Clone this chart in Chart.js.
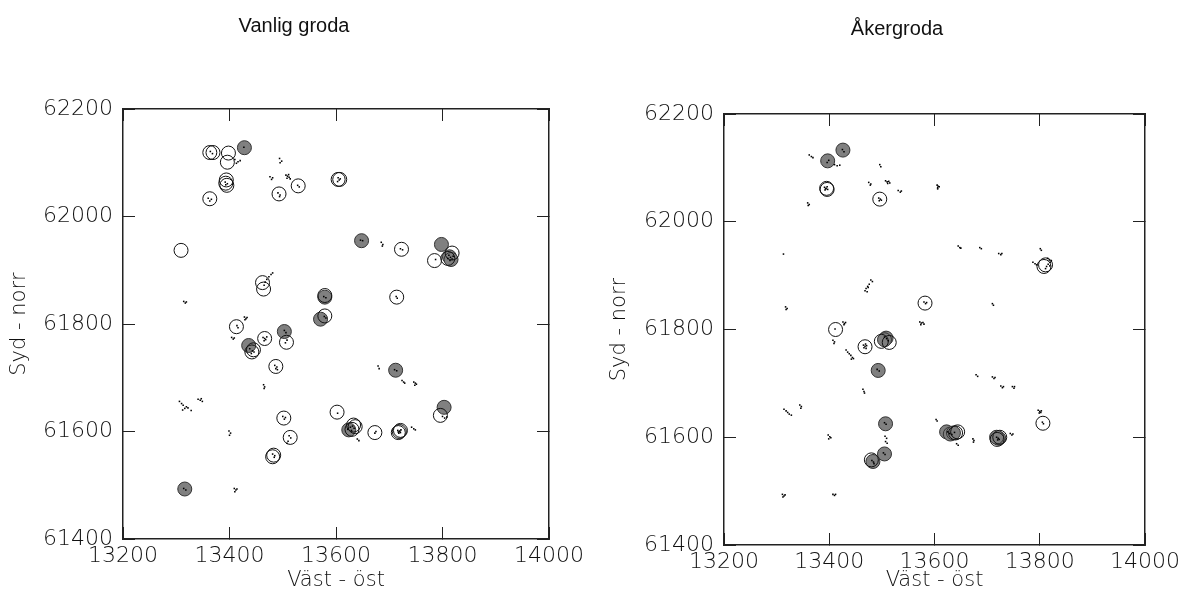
<!DOCTYPE html>
<html lang="sv">
<head>
<meta charset="utf-8">
<title>Vanlig groda och åkergroda</title>
<script src="https://cdn.jsdelivr.net/npm/chart.js@4.4.1/dist/chart.umd.min.js"></script>
<style>
  body { margin: 0; background: #fff; }
  #wrap { position: relative; width: 1196px; height: 597px; }
  #vanligChart { position: absolute; left: 0; top: 0; }
  #akerChart { position: absolute; left: 600px; top: 0; }
</style>
</head>
<body>
<div id="wrap">
  <canvas id="vanligChart" width="600" height="597"></canvas>
  <canvas id="akerChart" width="596" height="597"></canvas>
</div>
<script>
const xTicks = [13200, 13400, 13600, 13800, 14000];
const yTicks = [61400, 61600, 61800, 62000, 62200];

// Vanlig groda: öppna ringar, grå fyllda ringar och enskilda fynd (prickar)
const vanligOppna = [
  [13363,62119],[13369,62119],[13398,62118],[13396,62101],[13394,62068],[13393,62062],[13395,62058],
  [13363,62033],[13309,61937],[13462,61877],[13464,61865],[13493,62042],[13529,62057],[13604,62069],
  [13607,62069],[13723,61939],[13785,61918],[13818,61932],[13810,61922],[13579,61853],[13579,61815],
  [13507,61766],[13714,61850],[13413,61795],[13466,61773],[13442,61748],[13445,61752],[13487,61721],
  [13602,61636],[13502,61625],[13514,61589],[13483,61556],[13481,61553],[13633,61612],[13636,61609],
  [13630,61604],[13673,61598],[13719,61600],[13721,61602],[13717,61598],[13796,61630]
];
const vanligGra = [
  [13428,62128],[13648,61955],[13798,61948],[13813,61925],[13816,61920],[13579,61850],[13571,61809],
  [13503,61786],[13436,61760],[13712,61714],[13624,61603],[13803,61645],[13316,61493]
];
const vanligPrickar = [
  [13410,62106],[13416,62102],[13420,62104],[13413,62099],[13494,62108],[13498,62103],[13495,62100],
  [13476,62074],[13479,62069],[13481,62072],[13506,62077],[13509,62075],[13512,62073],[13508,62071],
  [13514,62070],[13511,62078],[13364,62121],[13368,62117],[13392,62064],[13396,62061],[13393,62059],
  [13360,62034],[13366,62032],[13363,62029],[13491,62044],[13495,62040],[13494,62037],[13528,62058],
  [13531,62055],[13604,62072],[13606,62068],[13603,62065],[13608,62070],[13427,62129],
  [13685,61952],[13688,61948],[13687,61945],[13721,61940],[13725,61938],[13646,61956],[13650,61955],
  [13812,61928],[13815,61924],[13818,61921],[13814,61918],[13820,61926],[13810,61922],[13787,61920],
  [13314,61842],[13317,61839],[13319,61841],[13474,61888],[13478,61892],[13481,61895],[13470,61883],
  [13467,61878],[13465,61872],[13428,61813],[13431,61810],[13433,61812],[13429,61808],[13404,61775],
  [13407,61772],[13409,61774],[13463,61775],[13466,61773],[13468,61771],[13465,61769],[13470,61776],
  [13438,61754],[13443,61750],[13446,61748],[13441,61745],[13503,61788],[13506,61784],[13508,61770],
  [13505,61765],[13485,61723],[13489,61720],[13487,61717],[13490,61715],[13577,61851],[13581,61849],
  [13578,61814],[13581,61811],[13713,61851],[13715,61848],[13464,61687],[13466,61683],[13465,61680],
  [13306,61656],[13310,61652],[13313,61649],[13316,61643],[13319,61646],[13312,61640],[13322,61644],
  [13328,61639],[13341,61660],[13345,61658],[13349,61656],[13347,61661],[13399,61601],[13402,61597],
  [13400,61593],[13409,61494],[13412,61491],[13410,61488],[13414,61493],[13314,61494],[13318,61491],
  [13500,61628],[13503,61623],[13505,61626],[13512,61592],[13515,61588],[13510,61582],[13508,61578],
  [13481,61558],[13485,61555],[13484,61552],[13603,61634],[13622,61604],[13627,61608],[13631,61610],
  [13634,61606],[13629,61602],[13640,61586],[13643,61583],[13673,61597],[13675,61600],[13716,61602],
  [13719,61600],[13721,61598],[13718,61597],[13722,61603],[13717,61599],[13720,61601],[13742,61608],
  [13746,61605],[13749,61603],[13679,61722],[13681,61717],[13724,61695],[13727,61692],[13729,61690],
  [13746,61692],[13749,61690],[13751,61688],[13748,61686],[13710,61715],[13714,61713],[13800,61628],
  [13804,61625],[13808,61627],[13414,61797],[13416,61793]
];

// Åkergroda
const akerOppna = [
  [13395,62062],[13396,62060],[13496,62042],[13412,61800],[13468,61768],[13499,61778],[13514,61776],
  [13582,61849],[13808,61917],[13811,61920],[13480,61558],[13644,61610],[13640,61608],[13724,61600],
  [13719,61596],[13806,61626]
];
const akerGra = [
  [13426,62133],[13397,62113],[13508,61784],[13505,61781],[13493,61724],[13507,61625],[13505,61569],
  [13483,61555],[13623,61610],[13630,61606],[13636,61608],[13722,61598],[13718,61600]
];
const akerPrickar = [
  [13362,62124],[13366,62121],[13369,62119],[13410,62106],[13415,62104],[13420,62105],[13399,62114],
  [13396,62110],[13425,62134],[13428,62130],[13496,62106],[13498,62102],[13475,62073],[13479,62070],
  [13478,62068],[13507,62076],[13510,62074],[13513,62075],[13511,62071],[13515,62072],[13531,62058],
  [13535,62055],[13537,62057],[13605,62068],[13607,62066],[13606,62063],[13609,62065],[13606,62061],
  [13391,62064],[13394,62062],[13397,62060],[13392,62059],[13396,62065],[13393,62061],[13359,62035],
  [13362,62032],[13360,62030],[13494,62044],[13497,62042],[13495,62039],[13499,62040],[13313,61940],
  [13317,61842],[13320,61839],[13318,61837],[13479,61892],[13482,61889],[13476,61884],[13473,61880],
  [13470,61876],[13468,61872],[13472,61870],[13474,61878],[13426,61814],[13429,61811],[13431,61813],
  [13428,61809],[13407,61780],[13410,61777],[13409,61774],[13432,61762],[13435,61758],[13438,61755],
  [13441,61752],[13444,61748],[13446,61746],[13442,61745],[13465,61771],[13468,61769],[13471,61770],
  [13466,61766],[13469,61773],[13470,61765],[13572,61814],[13575,61812],[13578,61813],[13574,61809],
  [13580,61810],[13580,61851],[13583,61848],[13585,61850],[13645,61955],[13648,61952],[13650,61951],
  [13686,61952],[13689,61950],[13722,61941],[13726,61939],[13728,61941],[13801,61950],[13803,61947],
  [13787,61925],[13791,61922],[13794,61920],[13815,61932],[13818,61929],[13820,61925],[13816,61921],
  [13813,61917],[13811,61913],[13819,61918],[13822,61928],[13710,61848],[13712,61845],[13491,61726],
  [13495,61723],[13505,61786],[13509,61783],[13512,61779],[13464,61689],[13466,61685],[13467,61682],
  [13314,61652],[13318,61649],[13321,61646],[13324,61643],[13328,61641],[13344,61660],[13347,61657],
  [13346,61654],[13398,61604],[13401,61601],[13399,61597],[13403,61599],[13311,61494],[13314,61491],
  [13316,61493],[13312,61489],[13407,61494],[13410,61492],[13412,61494],[13506,61602],[13509,61598],
  [13507,61592],[13510,61589],[13505,61627],[13508,61624],[13503,61571],[13506,61568],[13481,61557],
  [13484,61554],[13485,61551],[13603,61633],[13605,61630],[13625,61610],[13629,61607],[13633,61605],
  [13638,61609],[13642,61588],[13645,61585],[13673,61597],[13675,61594],[13674,61591],[13718,61600],
  [13721,61598],[13723,61596],[13720,61595],[13744,61607],[13747,61604],[13749,61606],[13679,61716],
  [13682,61713],[13710,61712],[13713,61709],[13715,61711],[13726,61695],[13729,61692],[13731,61694],
  [13748,61694],[13751,61691],[13752,61694],[13797,61650],[13800,61648],[13803,61649],[13799,61645],
  [13802,61646],[13805,61628],[13807,61625],[13411,61801]
];

const tickFont = { family: 'DejaVu Sans', size: 22, weight: 200 };
const axelFont = { family: 'DejaVu Sans', size: 21, weight: 200 };
const linje = '#222';
const textfarg = '#111';

// rubrik ovanför varje diagram
const rubrikPlugin = {
  id: 'rubrik',
  afterDraw(chart, args, opts) {
    const ctx = chart.ctx;
    ctx.save();
    ctx.font = '20px "Liberation Sans"';
    ctx.fillStyle = textfarg;
    ctx.textAlign = 'center';
    ctx.textBaseline = 'alphabetic';
    ctx.fillText(opts.text, opts.x, opts.y);
    ctx.restore();
  }
};

const tillPunkter = arr => arr.map(p => ({ x: p[0], y: p[1] }));

function axel(pos, ticks, afterFit, extra) {
  const horisontell = pos === 'top' || pos === 'bottom';
  return Object.assign({
    type: 'linear',
    position: pos,
    min: ticks[0],
    max: ticks[ticks.length - 1],
    afterBuildTicks: s => { s.ticks = ticks.map(v => ({ value: v })); },
    afterFit: afterFit,
    grid: { drawOnChartArea: false, drawTicks: true, tickLength: -12, color: linje, lineWidth: 1 },
    border: { display: true, color: linje, width: 1.5 },
    ticks: {
      display: pos === 'bottom' || pos === 'left',
      padding: horisontell ? 16 : 22,
      color: textfarg,
      font: tickFont,
      maxRotation: 0,
      autoSkip: false,
      callback: v => String(v)
    }
  }, extra || {});
}

function ritaGroda(id, rubrik, oppna, gra, prickar, yta) {
  return new Chart(document.getElementById(id), {
    type: 'scatter',
    data: {
      datasets: [
        { data: tillPunkter(prickar), pointStyle: 'rect', pointRadius: 1.1, backgroundColor: '#000', borderWidth: 0 },
        { data: tillPunkter(oppna), pointRadius: 7, backgroundColor: 'rgba(0,0,0,0)', borderColor: '#111', borderWidth: 1 },
        { data: tillPunkter(gra), pointRadius: 7, backgroundColor: '#808080', borderColor: '#333', borderWidth: 1 }
      ]
    },
    options: {
      responsive: false,
      animation: false,
      events: [],
      layout: { padding: { top: yta.top, right: yta.right, left: 0, bottom: 0 } },
      plugins: {
        legend: { display: false },
        tooltip: { enabled: false },
        rubrik: { text: rubrik, x: yta.titelX, y: yta.titelY }
      },
      scales: {
        x: axel('bottom', xTicks, s => { s.height = yta.xHojd; }, {
          title: { display: true, text: 'Väst - öst', color: textfarg, font: axelFont, padding: { top: 0, bottom: 4 } }
        }),
        x2: axel('top', xTicks, s => { s.height = 0; }),
        y: axel('left', yTicks, s => { s.width = yta.yBredd; }, {
          title: { display: true, text: 'Syd - norr', color: textfarg, font: axelFont, padding: { top: 7, bottom: 0 } }
        }),
        y2: axel('right', yTicks, s => { s.width = 0; })
      }
    },
    plugins: [rubrikPlugin]
  });
}

ritaGroda('vanligChart', 'Vanlig groda', vanligOppna, vanligGra, vanligPrickar,
  { top: 109, right: 48, xHojd: 58, yBredd: 123, titelX: 294, titelY: 32 });
ritaGroda('akerChart', 'Åkergroda', akerOppna, akerGra, akerPrickar,
  { top: 114, right: 41, xHojd: 52, yBredd: 124, titelX: 297, titelY: 35 });
</script>
</body>
</html>
